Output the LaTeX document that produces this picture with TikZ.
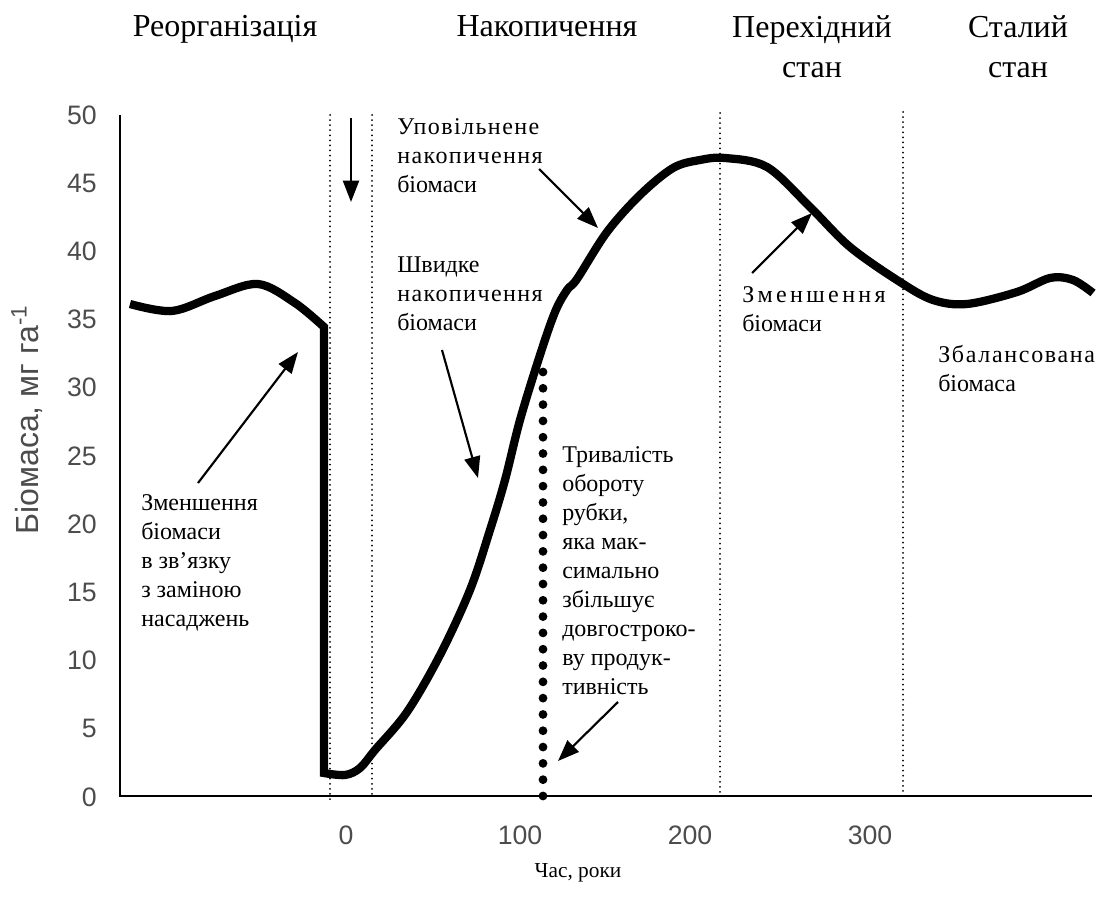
\documentclass[tikz,border=0pt]{standalone}
\usepackage{fontspec}
\setmainfont{Liberation Serif}
\newfontfamily\axisfont{Liberation Sans}
\newfontfamily\widefont{Liberation Serif}[LetterSpace=14]
\newfontfamily\balfont{Liberation Serif}[LetterSpace=7]
\newfontfamily\midfont{Liberation Serif}[LetterSpace=6]
\usetikzlibrary{arrows.meta}
\tikzset{
  biomass/.style = {line width=6.2pt, line join=miter},
  axis/.style = {line width=1.5pt},
  phase/.style = {line width=1.5pt, dash pattern=on 0pt off 3.8pt, line cap=round},
  rotation/.style = {line width=6.6pt, dash pattern=on 0pt off 12.23pt, line cap=round},
  pointer/.style = {line width=1.6pt, -{Triangle[length=16pt,width=12pt]}},
  heading/.style = {font=\fontsize{24}{30}\selectfont, align=center, inner sep=0},
  note/.style = {font=\fontsize{18}{21.75}\selectfont, align=left, inner sep=0, anchor=north west},
  ticklabel/.style = {font=\axisfont\fontsize{20}{23}\selectfont, text=black!70, inner sep=0},
}

\begin{document}
\begin{tikzpicture}[x=0.75pt, y=-0.75pt]
  \useasboundingbox (0,0) rectangle (1102,909);

  % phase headings
  \node (reorg) [heading, anchor=base] at (225,37) {Реорганізація};
  \node (accum) [heading, anchor=base] at (547,37) {Накопичення};
  \node (trans) [heading, anchor=north] at (812,15) {Перехідний\\стан};
  \node (steady) [heading, anchor=north] at (1018,15) {Сталий\\стан};

  % phase borders
  \draw [phase] (330,115) -- (330,800);
  \draw [phase] (372,115) -- (372,796);
  \draw [phase] (720,113) -- (720,796);
  \draw [phase] (903,112) -- (903,796);

  % axes
  \draw [axis] (120,115) -- (120,796) -- (1092,796);
  \foreach \v in {0,5,...,50}
    \node (ylab\v) [ticklabel, anchor=east] at (97,{797-13.64*\v}) {\v};
  \foreach \t/\x in {0/346, 100/520, 200/690, 300/870}
    \node (xlab\t) [ticklabel] at (\x,835) {\t};
  \node (ytitle) [ticklabel, font=\axisfont\fontsize{24}{28}\selectfont, rotate=90] at (27,420)
    {Біомаса, мг га\textsuperscript{-1}};
  \node (xtitle) [inner sep=0, font=\fontsize{16}{19}\selectfont] at (578,873) {Час, роки};

  % rotation length
  \draw [rotation] (543,372) -- (543,796);

  % biomass curve
  \draw [biomass]
    plot [smooth, tension=0.55] coordinates {(130,304) (172,311) (215,296) (258,284) (295,303) (324,327)}
    -- (324,773)
    -- plot [smooth, tension=0.55] coordinates {(324,773) (345,775) (360,768) (375,750) (407,712)
      (440,655) (470,590) (490,530) (505,480) (520,420) (540,355) (555,312) (567,290) (577,279)
      (607,232) (640,195) (673,168) (700,160) (725,158) (767,167) (810,207) (850,247) (900,282)
      (933,300) (967,304) (1017,292) (1050,278) (1073,280) (1093,293)};

  % labels
  \node (slowLbl) [note] at (397,118)
    {{\midfont Уповільнене}\\{\midfont накопичення}\\біомаси};
  \node (fastLbl) [note] at (397,257)
    {Швидке\\{\midfont накопичення}\\біомаси};
  \node (replLbl) [note] at (141,494)
    {Зменшення\\біомаси\\в зв’язку\\з заміною\\насаджень};
  \node (rotLbl) [note] at (562,446)
    {Тривалість\\обороту\\рубки,\\яка мак-\\симально\\збільшує\\довгостроко-\\ву продук-\\тивність};
  \node (lossLbl) [note] at (742,286)
    {{\widefont Зменшення}\\біомаси};
  \node (balLbl) [note] at (938,345)
    {{\balfont Збалансована}\\біомаса};

  % arrow ends
  \coordinate (cutTop) at (351,118);
  \coordinate (cutTip) at (351,202);
  \coordinate (replTail) at (198,483);
  \coordinate (replTip) at (298,352);
  \coordinate (slowTail) at (539,169);
  \coordinate (slowTip) at (598,228);
  \coordinate (fastTail) at (442,350);
  \coordinate (fastTip) at (478,478);
  \coordinate (lossTail) at (752,273);
  \coordinate (lossTip) at (812,213);
  \coordinate (rotTail) at (618,702);
  \coordinate (rotTip) at (558,761);

  \draw [pointer] (cutTop) -- (cutTip);
  \draw [pointer] (replTail) -- (replTip);
  \draw [pointer] (slowTail) -- (slowTip);
  \draw [pointer] (fastTail) -- (fastTip);
  \draw [pointer] (lossTail) -- (lossTip);
  \draw [pointer] (rotTail) -- (rotTip);
\end{tikzpicture}
\end{document}
